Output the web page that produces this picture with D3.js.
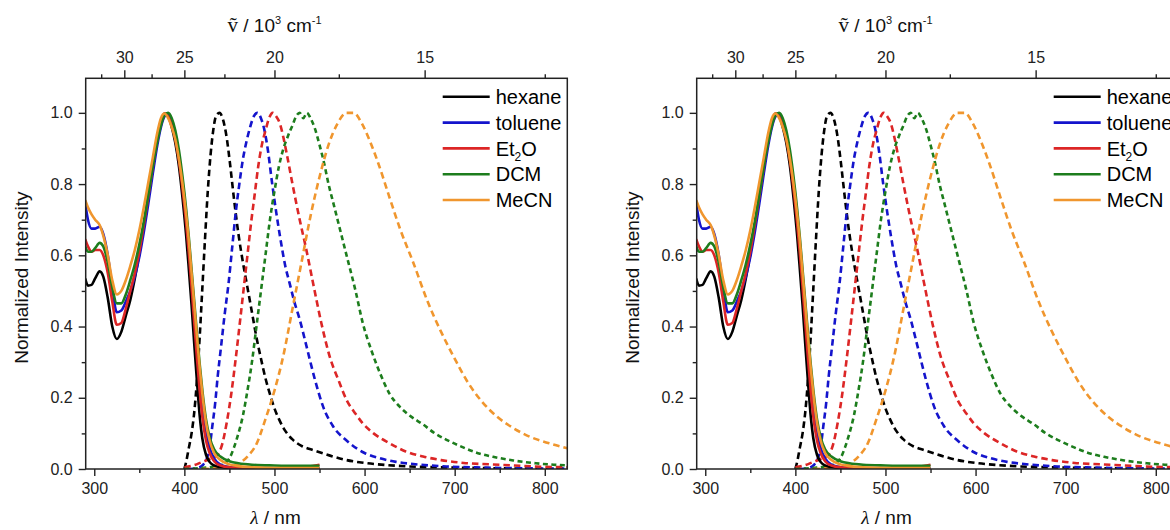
<!DOCTYPE html>
<html>
<head>
<meta charset="utf-8">
<script src="https://cdn.jsdelivr.net/npm/d3@7"></script>
<style>
  body { margin: 0; background: #fff; }
  svg { display: block; font-family: "Liberation Sans", Arial, sans-serif; }
</style>
</head>
<body>
<svg id="chart" width="1170" height="530"></svg>
<script>
// solvents + colours (legend order)
var solvents = ["hexane", "toluene", "Et2O", "DCM", "MeCN"];
var colors = ["#000000", "#1414cc", "#dc2626", "#1d7d1d", "#f0962e"];

// absorption (solid), all on one wavelength grid
var absWl = [290, 293, 297, 301, 306, 310, 315, 320, 325, 330, 335, 340, 345, 350, 355, 360, 365, 370, 374, 378, 382, 386, 390, 394, 398, 402, 405, 408, 411, 414, 417, 420, 424, 428, 433, 440, 450, 460, 475, 500, 525, 550];
var hexaneAbs = [0.535, 0.515, 0.517, 0.535, 0.555, 0.54, 0.48, 0.40, 0.365, 0.385, 0.43, 0.475, 0.535, 0.605, 0.68, 0.765, 0.855, 0.93, 0.975, 0.998, 0.99, 0.96, 0.915, 0.85, 0.76, 0.655, 0.56, 0.46, 0.35, 0.245, 0.15, 0.085, 0.04, 0.02, 0.01, 0.005, 0.003, 0.002, 0.001, 0.001, 0.001, 0.001];
var tolueneAbs = [0.745, 0.70, 0.675, 0.675, 0.68, 0.66, 0.60, 0.51, 0.44, 0.445, 0.47, 0.50, 0.54, 0.595, 0.665, 0.745, 0.83, 0.91, 0.96, 0.99, 0.998, 0.975, 0.935, 0.875, 0.80, 0.71, 0.63, 0.54, 0.45, 0.36, 0.27, 0.19, 0.11, 0.06, 0.03, 0.012, 0.005, 0.003, 0.002, 0.001, 0.001, 0.001];
var et2oAbs = [0.645, 0.625, 0.61, 0.615, 0.615, 0.60, 0.55, 0.47, 0.405, 0.41, 0.45, 0.50, 0.55, 0.61, 0.685, 0.765, 0.85, 0.925, 0.972, 0.998, 0.99, 0.965, 0.925, 0.865, 0.785, 0.69, 0.605, 0.51, 0.41, 0.31, 0.22, 0.145, 0.08, 0.045, 0.022, 0.01, 0.005, 0.004, 0.003, 0.003, 0.004, 0.012];
var dcmAbs = [0.625, 0.61, 0.61, 0.62, 0.635, 0.625, 0.58, 0.51, 0.465, 0.465, 0.49, 0.53, 0.575, 0.63, 0.695, 0.77, 0.85, 0.92, 0.965, 0.993, 1.0, 0.985, 0.95, 0.895, 0.82, 0.73, 0.65, 0.56, 0.47, 0.38, 0.295, 0.22, 0.14, 0.09, 0.055, 0.035, 0.022, 0.016, 0.012, 0.01, 0.009, 0.009];
var mecnAbs = [0.755, 0.735, 0.715, 0.70, 0.685, 0.655, 0.60, 0.53, 0.49, 0.50, 0.53, 0.57, 0.615, 0.67, 0.735, 0.805, 0.875, 0.945, 0.985, 0.998, 0.985, 0.96, 0.925, 0.87, 0.80, 0.715, 0.64, 0.55, 0.46, 0.37, 0.285, 0.21, 0.13, 0.08, 0.045, 0.025, 0.013, 0.008, 0.005, 0.003, 0.003, 0.003];

// emission (dashed), each with its own grid
var hexaneEmWl = [400, 402, 405, 408, 411, 414, 417, 420, 423, 426, 429, 432, 435, 439, 443, 447, 451, 455, 460, 465, 470, 475, 480, 485, 490, 495, 500, 505, 510, 515, 520, 530, 543, 555, 565, 580, 600, 625, 650, 700, 750, 800, 825];
var hexaneEm = [0, 0.02, 0.06, 0.1, 0.16, 0.25, 0.37, 0.51, 0.65, 0.78, 0.88, 0.95, 0.99, 1.0, 0.98, 0.93, 0.85, 0.76, 0.66, 0.58, 0.51, 0.44, 0.37, 0.31, 0.255, 0.21, 0.17, 0.14, 0.115, 0.097, 0.083, 0.065, 0.053, 0.043, 0.035, 0.025, 0.017, 0.011, 0.007, 0.004, 0.002, 0.001, 0.001];
var tolueneEmWl = [405, 415, 420, 425, 428, 431, 434, 437, 441, 445, 449, 453, 457, 461, 465, 469, 473, 477, 481, 485, 489, 493, 497, 502, 507, 512, 517, 522, 528, 536, 545, 554, 565, 580, 600, 617, 635, 654, 691, 730, 780, 825];
var tolueneEm = [0, 0.003, 0.01, 0.03, 0.06, 0.12, 0.18, 0.26, 0.35, 0.44, 0.52, 0.62, 0.72, 0.8, 0.87, 0.92, 0.96, 0.99, 1.0, 0.985, 0.95, 0.89, 0.81, 0.72, 0.64, 0.57, 0.52, 0.47, 0.42, 0.34, 0.25, 0.175, 0.12, 0.08, 0.045, 0.03, 0.02, 0.014, 0.007, 0.004, 0.002, 0.001];
var et2oEmWl = [400, 410, 420, 430, 437, 442, 447, 452, 457, 462, 466, 470, 474, 478, 482, 486, 490, 494, 498, 502, 506, 510, 514, 520, 528, 535, 543, 552, 562, 571, 580, 590, 598, 610, 628, 645, 665, 685, 710, 740, 765, 800, 825];
var et2oEm = [0.005, 0.01, 0.02, 0.03, 0.04, 0.07, 0.13, 0.21, 0.31, 0.42, 0.51, 0.6, 0.69, 0.77, 0.85, 0.91, 0.95, 0.985, 1.0, 0.99, 0.97, 0.93, 0.88, 0.8, 0.7, 0.62, 0.52, 0.41, 0.31, 0.25, 0.194, 0.155, 0.128, 0.1, 0.072, 0.05, 0.035, 0.025, 0.017, 0.013, 0.01, 0.006, 0.005];
var dcmEmWl = [400, 420, 440, 450, 455, 460, 465, 470, 475, 480, 485, 490, 495, 500, 505, 510, 515, 520, 524, 528, 532, 536, 540, 545, 550, 555, 560, 565, 570, 580, 590, 598, 608, 617, 628, 639, 650, 665, 678, 691, 710, 728, 745, 765, 790, 810, 825];
var dcmEm = [0, 0.003, 0.01, 0.03, 0.06, 0.1, 0.15, 0.22, 0.3, 0.4, 0.5, 0.6, 0.7, 0.78, 0.85, 0.9, 0.935, 0.965, 0.99, 1.0, 0.985, 1.0, 0.985, 0.955, 0.91, 0.86, 0.8, 0.75, 0.7, 0.6, 0.5, 0.41, 0.33, 0.27, 0.21, 0.175, 0.15, 0.125, 0.1, 0.082, 0.06, 0.043, 0.033, 0.024, 0.016, 0.012, 0.01];
var mecnEmWl = [420, 440, 450, 460, 470, 480, 490, 500, 510, 520, 530, 540, 550, 560, 570, 580, 588, 597, 606, 615, 628, 640, 654, 670, 684, 700, 713, 730, 747, 765, 784, 805, 825];
var mecnEm = [0, 0.003, 0.006, 0.015, 0.035, 0.07, 0.14, 0.22, 0.32, 0.45, 0.58, 0.71, 0.82, 0.91, 0.97, 1.0, 1.0, 0.97, 0.92, 0.86, 0.76, 0.67, 0.58, 0.47, 0.39, 0.31, 0.25, 0.19, 0.147, 0.115, 0.09, 0.072, 0.058];

// axis ticks
var xMajor = [300, 400, 500, 600, 700, 800];
var xMinor = [350, 450, 550, 650, 750];
var yMajor = [0, 0.2, 0.4, 0.6, 0.8, 1.0];
var yMinor = [0.1, 0.3, 0.5, 0.7, 0.9];
var nuMajor = [30, 25, 20, 15];          // 10^3 cm-1
var nuMinor = [32.5, 27.5, 22.5, 17.5, 12.5];

var absSets = [hexaneAbs, tolueneAbs, et2oAbs, dcmAbs, mecnAbs];
var emWls = [hexaneEmWl, tolueneEmWl, et2oEmWl, dcmEmWl, mecnEmWl];
var emSets = [hexaneEm, tolueneEm, et2oEm, dcmEm, mecnEm];

var margin = {left: 85.7, top: 78.3};
var width = 481.6, height = 390.7;
var panelShift = [0, 611]; // the figure is shown twice, second one cut at the right

var x = d3.scaleLinear().domain([290.5, 825]).range([0, width]);
var y = d3.scaleLinear().domain([0, 1.097]).range([height, 0]);

var line = d3.line()
    .x(function(d) { return x(d[0]); })
    .y(function(d) { return y(d[1]); })
    .curve(d3.curveMonotoneX);

var svg = d3.select("#chart");
svg.append("defs").append("clipPath").attr("id", "plotclip")
  .append("rect").attr("width", width).attr("height", height);

var axisColor = "#222";

var styleAxis = function(g, size) {
  g.select(".domain").remove();
  g.selectAll("line").attr("stroke", axisColor).attr("stroke-width", 1.4);
  g.selectAll("text").attr("fill", "#222").style("font-size", size + "px")
    .style("font-family", "'Liberation Sans', Arial, sans-serif");
};

var drawPanel = function(shift) {
  var g = svg.append("g")
      .attr("transform", "translate(" + (margin.left + shift) + "," + margin.top + ")");

  // curves
  var plot = g.append("g").attr("clip-path", "url(#plotclip)");
  solvents.forEach(function(s, i) {
    var em = emWls[i].map(function(w, k) { return [w, emSets[i][k]]; });
    plot.append("path")
        .datum(em)
        .attr("d", line)
        .attr("fill", "none")
        .attr("stroke", colors[i])
        .attr("stroke-width", 2.6)
        .attr("stroke-dasharray", i == 3 ? "5,3.5" : "6.5,4");
  });
  solvents.forEach(function(s, i) {
    var ab = absWl.map(function(w, k) { return [w, absSets[i][k]]; });
    plot.append("path")
        .datum(ab)
        .attr("d", line)
        .attr("fill", "none")
        .attr("stroke", colors[i])
        .attr("stroke-width", 2.6);
  });

  // bottom axis
  var xb = g.append("g").attr("transform", "translate(0," + height + ")")
      .call(d3.axisBottom(x).tickValues(xMajor).tickSize(7).tickPadding(7));
  styleAxis(xb, 16);
  var xbm = g.append("g").attr("transform", "translate(0," + height + ")")
      .call(d3.axisBottom(x).tickValues(xMinor).tickSize(4).tickFormat(""));
  styleAxis(xbm, 16);

  // left axis
  var yl = g.append("g")
      .call(d3.axisLeft(y).tickValues(yMajor).tickSize(7).tickPadding(6).tickFormat(d3.format(".1f")));
  styleAxis(yl, 16);
  var ylm = g.append("g")
      .call(d3.axisLeft(y).tickValues(yMinor).tickSize(4).tickFormat(""));
  styleAxis(ylm, 16);

  // top axis: wavenumber, placed through the wavelength scale
  var xt = g.append("g")
      .call(d3.axisTop(x)
        .tickValues(nuMajor.map(function(n) { return 10000 / n; }))
        .tickSize(8).tickPadding(7)
        .tickFormat(function(l) { return Math.round(10000 / l); }));
  styleAxis(xt, 16);
  var xtm = g.append("g")
      .call(d3.axisTop(x)
        .tickValues(nuMinor.map(function(n) { return 10000 / n; }))
        .tickSize(4).tickFormat(""));
  styleAxis(xtm, 16);

  // frame
  g.append("rect")
      .attr("width", width).attr("height", height)
      .attr("fill", "none").attr("stroke", axisColor).attr("stroke-width", 1.5);

  // legend
  var leg = g.append("g").attr("transform", "translate(357,18.5)");
  solvents.forEach(function(s, i) {
    var row = leg.append("g").attr("transform", "translate(0," + (i * 25.8) + ")");
    row.append("line").attr("x1", 0).attr("x2", 47)
        .attr("stroke", colors[i]).attr("stroke-width", 2.6);
    var t = row.append("text").attr("x", 53).attr("dy", "0.36em")
        .style("font-size", "20px").attr("fill", "#000");
    if (s == "Et2O") {
      t.append("tspan").text("Et");
      t.append("tspan").attr("dy", 5).style("font-size", "12px").text("2");
      t.append("tspan").attr("dy", -5).text("O");
    } else {
      t.text(s);
    }
  });

  // axis titles
  g.append("text")
      .attr("transform", "translate(-58," + (height / 2 + 4) + ") rotate(-90)")
      .attr("text-anchor", "middle")
      .style("font-size", "19px").attr("fill", "#111")
      .text("Normalized Intensity");

  var bt = g.append("text")
      .attr("x", width / 2 - 51).attr("y", height + 55)
      .attr("text-anchor", "middle")
      .style("font-size", "19px").attr("fill", "#111");
  bt.append("tspan").style("font-style", "italic")
      .style("font-family", "'Liberation Serif', 'Times New Roman', serif").text("λ");
  bt.append("tspan").text(" / nm");

  var tt = g.append("text")
      .attr("x", width / 2 - 52).attr("y", -46)
      .attr("text-anchor", "middle")
      .style("font-size", "19px").attr("fill", "#111");
  tt.append("tspan").style("font-family", "'Liberation Serif', 'DejaVu Serif', serif")
      .style("font-size", "21px").text("\u1e7d");
  tt.append("tspan").text(" / 10");
  tt.append("tspan").attr("dy", -8).style("font-size", "11px").text("3");
  tt.append("tspan").attr("dy", 8).text(" cm");
  tt.append("tspan").attr("dy", -8).style("font-size", "11px").text("-1");
};

panelShift.forEach(function(s) { drawPanel(s); });
</script>
</body>
</html>
